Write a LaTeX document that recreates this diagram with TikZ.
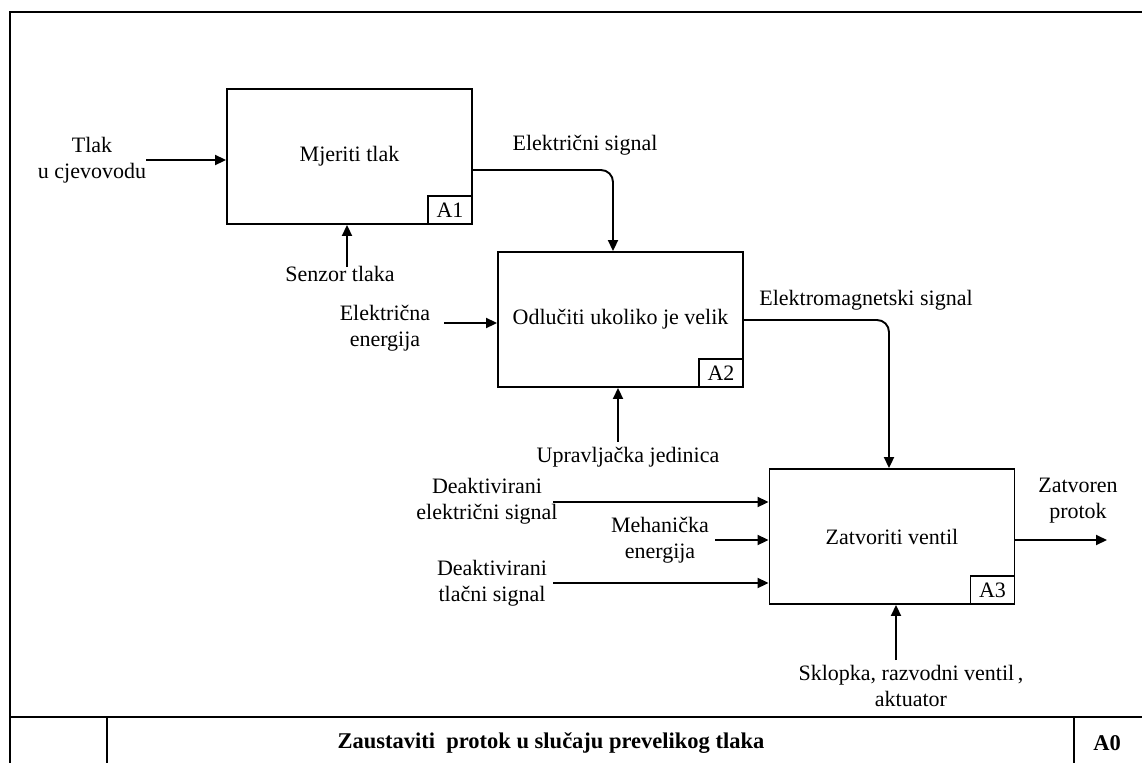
\documentclass[tikz,border=0pt]{standalone}
\usepackage{fontspec}
\setmainfont{Liberation Serif}
\usetikzlibrary{arrows.meta}
\begin{document}
\begin{tikzpicture}[x=1pt,y=-1pt,
  every node/.style={font=\fontsize{22}{26}\selectfont},
  func/.style={draw,line width=1.9pt,minimum width=245pt,minimum height=135pt,inner sep=0pt},
  tagbox/.style={draw,line width=1.9pt,minimum width=44pt,minimum height=28pt,inner sep=0pt,anchor=south east},
  lbl/.style={align=center,inner sep=0pt},
  conn/.style={line width=1.9pt,-{Triangle[length=11pt,width=10pt]}},
  framel/.style={line width=2pt}]
\useasboundingbox (0,0) rectangle (1142,763);

% frame
\coordinate (ftl) at (10,12);
\coordinate (ftr) at (1142,12);
\coordinate (fbl) at (10,763);
\coordinate (tbl) at (10,717);
\coordinate (tbr) at (1142,717);
\coordinate (d1t) at (107,717);
\coordinate (d1b) at (107,763);
\coordinate (d2t) at (1074,717);
\coordinate (d2b) at (1074,763);
\draw[framel] (ftr) -- (ftl) -- (fbl);
\draw[framel] (tbl) -- (tbr);
\draw[framel] (d1t) -- (d1b);
\draw[framel] (d2t) -- (d2b);
\node[lbl,font=\fontsize{22.5}{26}\selectfont\bfseries] (title) at (551,743) {Zaustaviti\ \ protok u slučaju prevelikog tlaka};
\node[lbl,font=\fontsize{22.5}{26}\selectfont\bfseries] (a0) at (1107,743) {A0};

% function boxes
\node[func] (A1) at (349.5,156.5) {Mjeriti tlak};
\node[func] (A2) at (620.5,319.5) {Odlučiti ukoliko je velik};
\node[func] (A3) at (892,536.5) {Zatvoriti ventil};
\node[tagbox] (t1) at (A1.south east) {A1};
\node[tagbox] (t2) at (A2.south east) {A2};
\node[tagbox] (t3) at (A3.south east) {A3};

% labels
\node[lbl] (l1) at (92,160) {Tlak\\u cjevovodu};
\node[lbl] (l2) at (340,274) {Senzor tlaka};
\node[lbl] (l3) at (585,145) {Električni signal};
\node[lbl] (l4) at (385,328) {Električna\\energija};
\node[lbl] (l5) at (628,457) {Upravljačka jedinica};
\node[lbl] (l6) at (866,300) {Elektromagnetski signal};
\node[lbl] (l7) at (487,501) {Deaktivirani\\električni signal};
\node[lbl] (l8) at (660,540) {Mehanička\\energija};
\node[lbl] (l9) at (492,583) {Deaktivirani\\tlačni signal};
\node[lbl] (l10) at (1078,501) {Zatvoren\\protok};
\node[lbl] (l11) at (911,686) {Sklopka, razvodni ventil\,,\\aktuator};

% connector endpoints
\coordinate (c1) at (146,160);
\coordinate (c2) at (347,267);
\coordinate (e1) at (613,170);
\coordinate (c4) at (444,323);
\coordinate (c5) at (618,442);
\coordinate (e2) at (889,320);
\coordinate (c7) at (553,502);
\coordinate (c8) at (715,540);
\coordinate (c9) at (553,583);
\coordinate (c10) at (1107,540);
\coordinate (c11) at (896,660);

% connectors
\draw[conn] (c1) -- (c1 -| A1.west);
\draw[conn] (c2) -- (c2 |- A1.south);
\draw[conn,rounded corners=12pt] (A1.east |- e1) -| (e1 |- A2.north);
\draw[conn] (c4) -- (c4 -| A2.west);
\draw[conn] (c5) -- (c5 |- A2.south);
\draw[conn,rounded corners=12pt] (A2.east |- e2) -| (e2 |- A3.north);
\draw[conn] (c7) -- (c7 -| A3.west);
\draw[conn] (c8) -- (c8 -| A3.west);
\draw[conn] (c9) -- (c9 -| A3.west);
\draw[conn] (A3.east |- c10) -- (c10);
\draw[conn] (c11) -- (c11 |- A3.south);
\end{tikzpicture}
\end{document}
